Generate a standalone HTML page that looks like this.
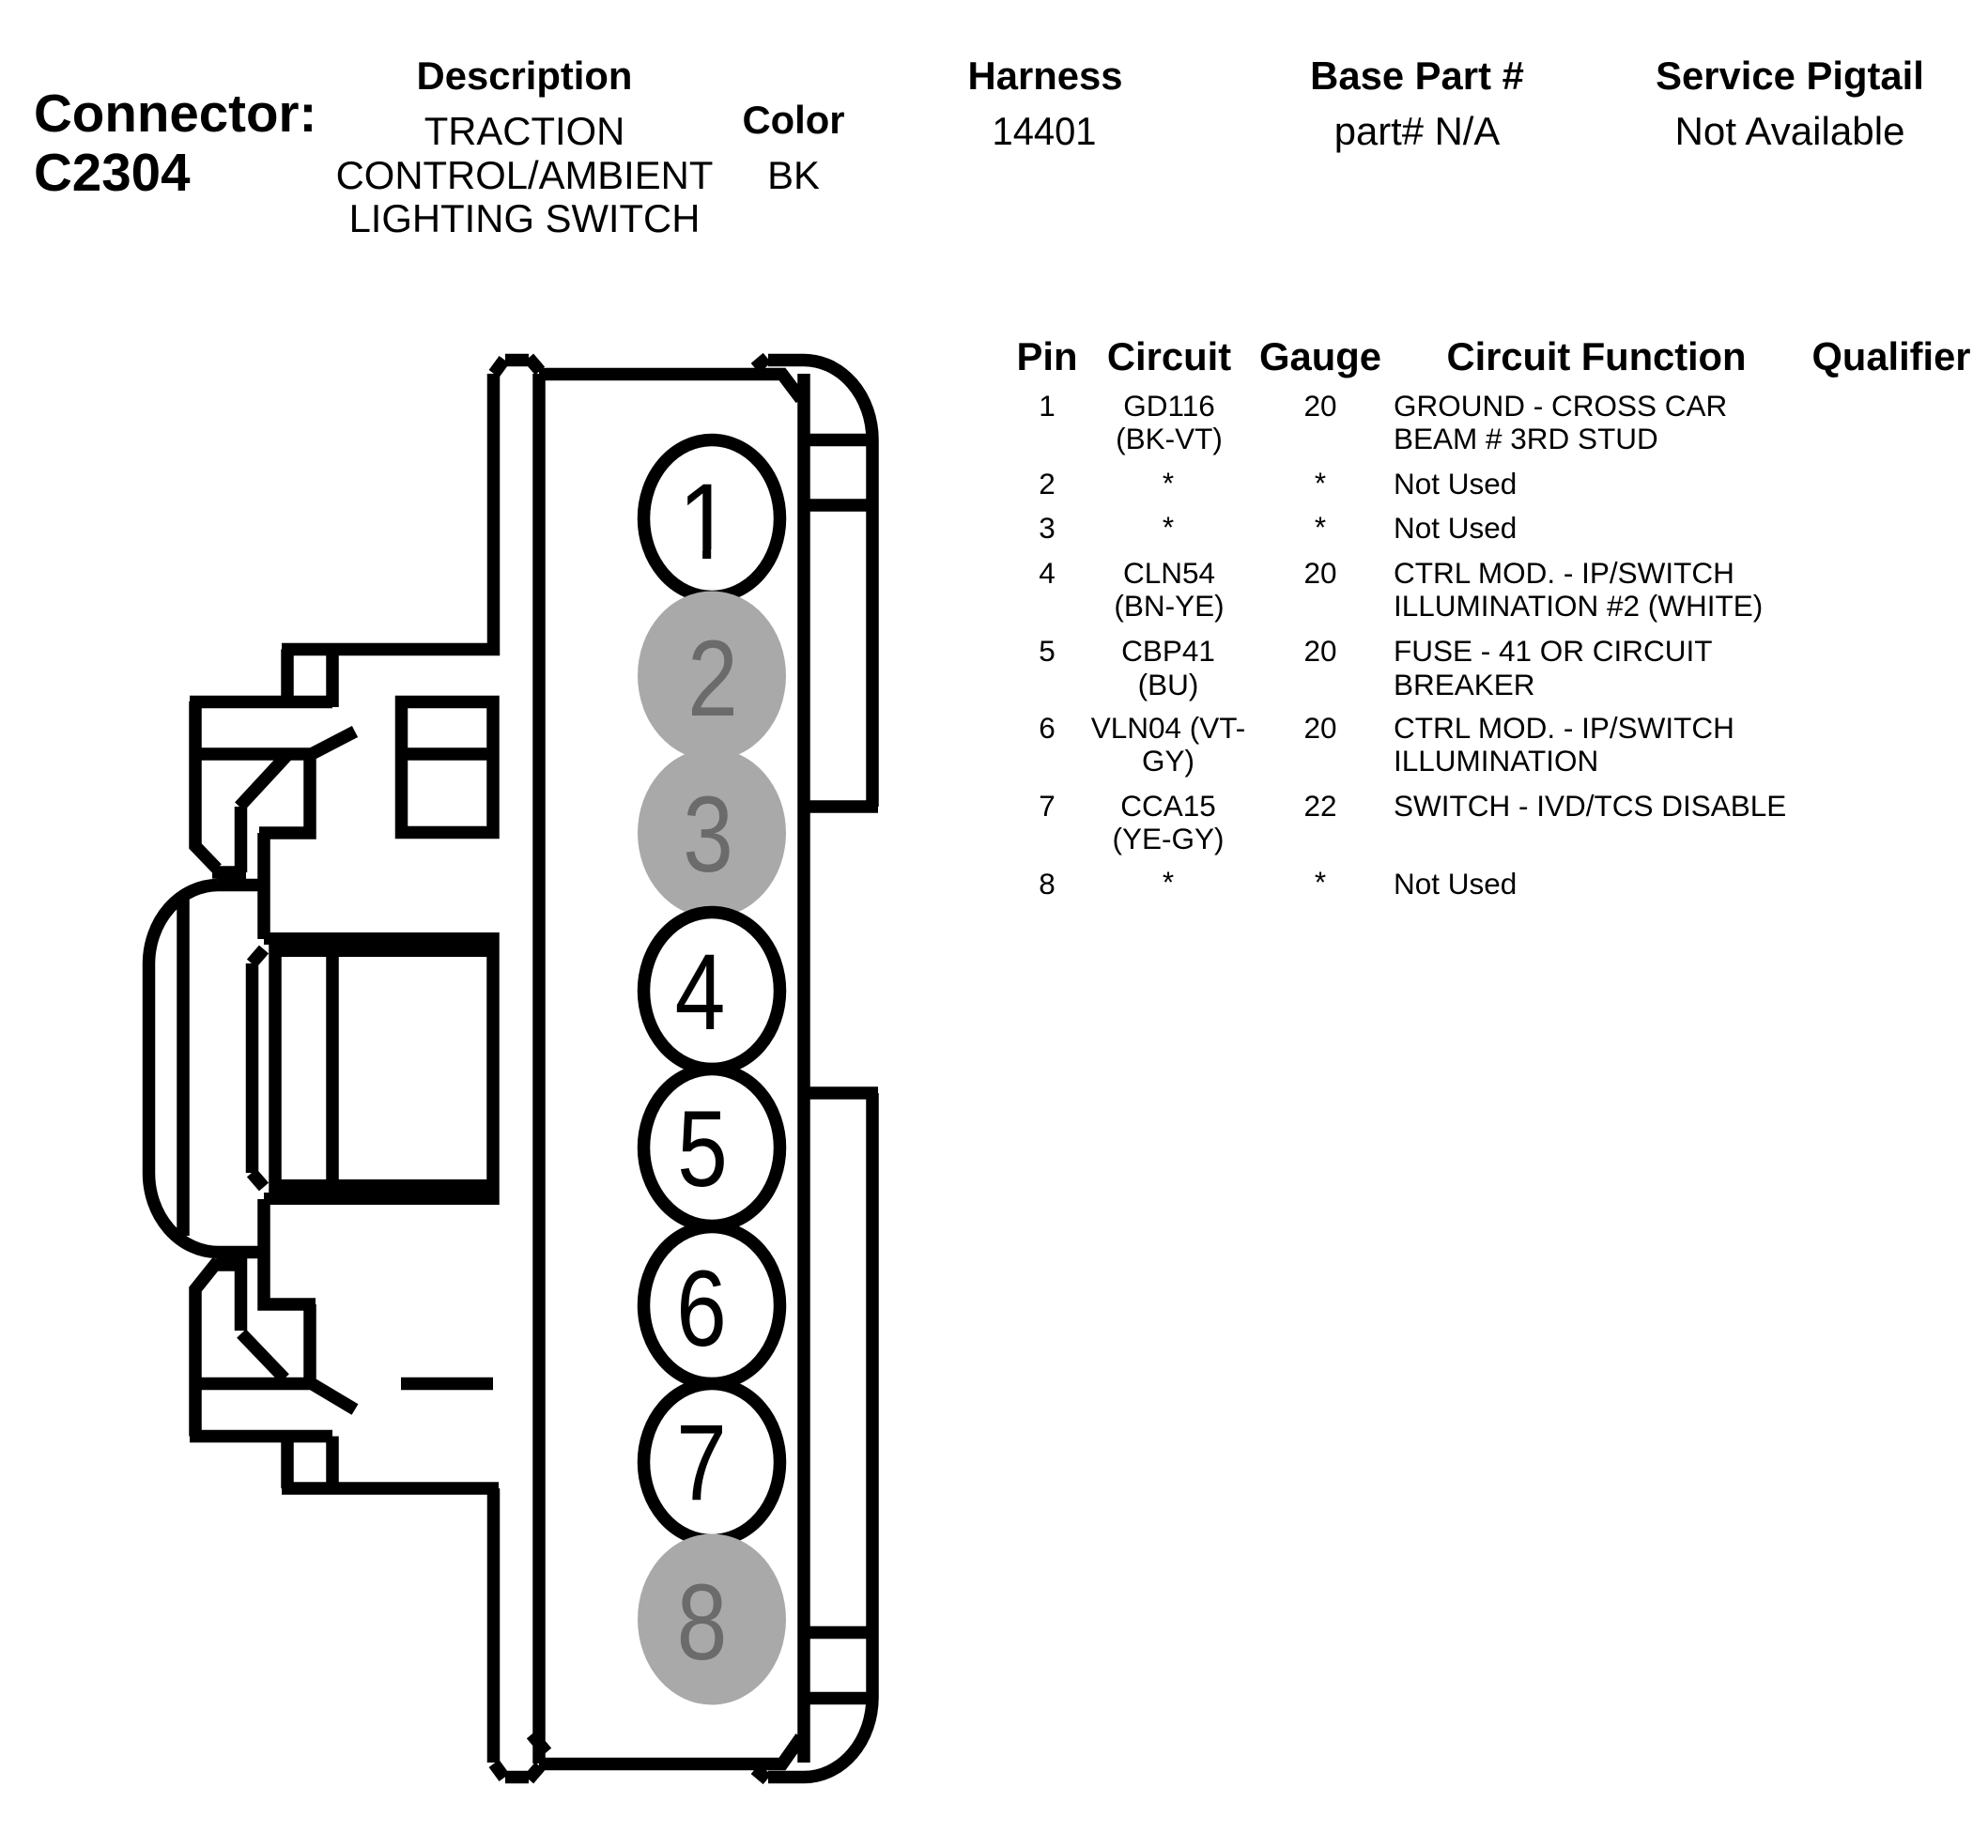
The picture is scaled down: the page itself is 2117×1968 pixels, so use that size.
<!DOCTYPE html>
<html>
<head>
<meta charset="utf-8">
<title>Connector C2304</title>
<style>
html,body{margin:0;padding:0;background:#fff;width:2117px;height:1968px;overflow:hidden}
svg{display:block}
text{font-family:"Liberation Sans",Arial,sans-serif;fill:#000}
.b{font-weight:bold;font-size:41.8px;text-anchor:middle}
.t{font-size:41.8px;text-anchor:middle}
.r{font-size:31.5px}
.c{font-size:31.5px;text-anchor:middle}
.n{font-size:115px;text-anchor:middle}
.g{fill:#6b6b6b}
.l{fill:none;stroke:#000;stroke-width:13.5;stroke-linejoin:miter;stroke-linecap:butt}
</style>
</head>
<body>
<svg width="2117" height="1968" viewBox="0 0 2117 1968" xmlns="http://www.w3.org/2000/svg">
<rect width="2117" height="1968" fill="#fff"/>

<!-- Title block -->
<text x="36" y="140" font-size="56.5" font-weight="bold">Connector:</text>
<text x="36" y="203" font-size="56.5" font-weight="bold">C2304</text>
<text class="b" x="558.5" y="95">Description</text>
<text class="t" x="558.5" y="154">TRACTION</text>
<text class="t" x="558.5" y="201">CONTROL/AMBIENT</text>
<text class="t" x="558.5" y="247">LIGHTING SWITCH</text>
<text class="b" x="845" y="142">Color</text>
<text class="t" x="845" y="201">BK</text>
<text class="b" x="1113" y="95">Harness</text>
<text class="t" x="1112" y="154" textLength="111" lengthAdjust="spacingAndGlyphs">14401</text>
<text class="b" x="1509" y="95">Base Part #</text>
<text class="t" x="1509" y="154">part# N/A</text>
<text class="b" x="1906" y="95">Service Pigtail</text>
<text class="t" x="1906" y="154" textLength="245" lengthAdjust="spacingAndGlyphs">Not Available</text>

<!-- Table header -->
<text class="b" x="1115" y="394">Pin</text>
<text class="b" x="1245" y="394">Circuit</text>
<text class="b" x="1406" y="394">Gauge</text>
<text class="b" x="1700" y="394" textLength="319" lengthAdjust="spacing">Circuit Function</text>
<text class="b" x="2014" y="394" textLength="169" lengthAdjust="spacingAndGlyphs">Qualifier</text>

<!-- Table rows -->
<text class="c" x="1115" y="443">1</text>
<text class="c" x="1245" y="443">GD116</text>
<text class="c" x="1245" y="478">(BK-VT)</text>
<text class="c" x="1406" y="443">20</text>
<text class="r" x="1484" y="443">GROUND - CROSS CAR</text>
<text class="r" x="1484" y="478">BEAM # 3RD STUD</text>

<text class="c" x="1115" y="526">2</text>
<text class="c" x="1244" y="525">*</text>
<text class="c" x="1406" y="525">*</text>
<text class="r" x="1484" y="526">Not Used</text>

<text class="c" x="1115" y="573">3</text>
<text class="c" x="1244" y="572">*</text>
<text class="c" x="1406" y="572">*</text>
<text class="r" x="1484" y="573">Not Used</text>

<text class="c" x="1115" y="621">4</text>
<text class="c" x="1245" y="621">CLN54</text>
<text class="c" x="1245" y="656">(BN-YE)</text>
<text class="c" x="1406" y="621">20</text>
<text class="r" x="1484" y="621">CTRL MOD. - IP/SWITCH</text>
<text class="r" x="1484" y="656">ILLUMINATION #2 (WHITE)</text>

<text class="c" x="1115" y="704">5</text>
<text class="c" x="1244" y="704">CBP41</text>
<text class="c" x="1244" y="740">(BU)</text>
<text class="c" x="1406" y="704">20</text>
<text class="r" x="1484" y="704">FUSE - 41 OR CIRCUIT</text>
<text class="r" x="1484" y="740">BREAKER</text>

<text class="c" x="1115" y="786">6</text>
<text class="c" x="1244" y="786">VLN04 (VT-</text>
<text class="c" x="1244" y="821">GY)</text>
<text class="c" x="1406" y="786">20</text>
<text class="r" x="1484" y="786">CTRL MOD. - IP/SWITCH</text>
<text class="r" x="1484" y="821">ILLUMINATION</text>

<text class="c" x="1115" y="869">7</text>
<text class="c" x="1244" y="869">CCA15</text>
<text class="c" x="1244" y="904">(YE-GY)</text>
<text class="c" x="1406" y="869">22</text>
<text class="r" x="1484" y="869">SWITCH - IVD/TCS DISABLE</text>

<text class="c" x="1115" y="952">8</text>
<text class="c" x="1244" y="950">*</text>
<text class="c" x="1406" y="950">*</text>
<text class="r" x="1484" y="952">Not Used</text>

<!-- Connector body -->
<path class="l" d="
M525.5 398V691.5H300
M306 691.5V747.5M354 691.5V753M202 747.5H354
M208 747V901L231 925
M226 929H262M256.5 929V859
M255 859L305 805
M202 803H335
M330 803V887H276
M326 806L378 779
M281 887V1000

M232 942.5H281
M232 942.5A74 84 0 0 0 158.5 1026V1249A74 84 0 0 0 232 1333.5H281
M195 955V1316

M281 1277V1389H336
M330 1389V1473
M202 1473.5H335
M326 1470L378 1501
M257 1420L303 1468
M256.5 1417V1347H226
M232 1343L208 1373V1529.5
M202 1529.5H354M306 1529.5V1585M354 1529.5V1591
M300 1585H531
M525.5 1585V1877

M268.5 1026V1249
M268 1026L281 1011
M268 1249L281 1264

M293 1006V1270M354 1006V1270
M525 993V1283

M427.5 747.5H525V886.5H427.5Z
M427.5 803H525
M427 1473.5H525
"/>
<rect x="281" y="993" width="250" height="13" fill="#000"/>
<rect x="287" y="1006" width="244" height="13" fill="#000"/>
<rect x="287" y="1256" width="244" height="14" fill="#000"/>
<rect x="281" y="1270" width="250" height="13" fill="#000"/>

<path class="l" d="
M574 398V1878
M574 398.5H833L853 425
M574 1878.5H833L853 1850
M526 398L537 383
M538 383.5H563
M563 381L575 395
M526 1878L537 1893
M538 1892.5H563
M563 1895L575 1881
M856 398V1877
M804 392L817 381
M818 383.5H856A73 85 0 0 1 929 468V859
M856 468.5H929
M856 538H929
M856 859H935
M856 1164H935
M929 1164V1808A73 85 0 0 1 856 1892.5H818
M804 1884L817 1895
M856 1738.5H929
M856 1808.5H929
M566 1847L582 1866
"/>

<!-- Pins -->
<ellipse cx="758" cy="552" rx="72.5" ry="83.5" fill="#fff" stroke="#000" stroke-width="13.5"/>
<text class="n" transform="translate(751 595) scale(.9 1)">1</text>
<rect x="720" y="585" width="28.1" height="12" fill="#fff"/>
<rect x="757.2" y="585" width="24" height="12" fill="#fff"/>
<ellipse cx="758" cy="719.5" rx="79" ry="90" fill="#a9a9a9"/>
<text class="n g" transform="translate(759 762) scale(.84 1)">2</text>
<ellipse cx="758" cy="887" rx="79" ry="90" fill="#a9a9a9"/>
<text class="n g" transform="translate(754 928) scale(.84 1)">3</text>
<ellipse cx="758" cy="1055" rx="72.5" ry="83.5" fill="#fff" stroke="#000" stroke-width="13.5"/>
<text class="n" transform="translate(745.5 1096) scale(.84 1)">4</text>
<ellipse cx="758" cy="1222" rx="72.5" ry="83.5" fill="#fff" stroke="#000" stroke-width="13.5"/>
<text class="n" transform="translate(748 1263) scale(.84 1)">5</text>
<ellipse cx="758" cy="1390" rx="72.5" ry="83.5" fill="#fff" stroke="#000" stroke-width="13.5"/>
<text class="n" transform="translate(747 1433) scale(.84 1)">6</text>
<ellipse cx="758" cy="1557" rx="72.5" ry="83.5" fill="#fff" stroke="#000" stroke-width="13.5"/>
<text class="n" transform="translate(747 1597) scale(.84 1)">7</text>
<ellipse cx="758" cy="1724.5" rx="79" ry="91" fill="#a9a9a9"/>
<text class="n g" transform="translate(747.5 1767) scale(.84 1)">8</text>
</svg>
</body>
</html>
